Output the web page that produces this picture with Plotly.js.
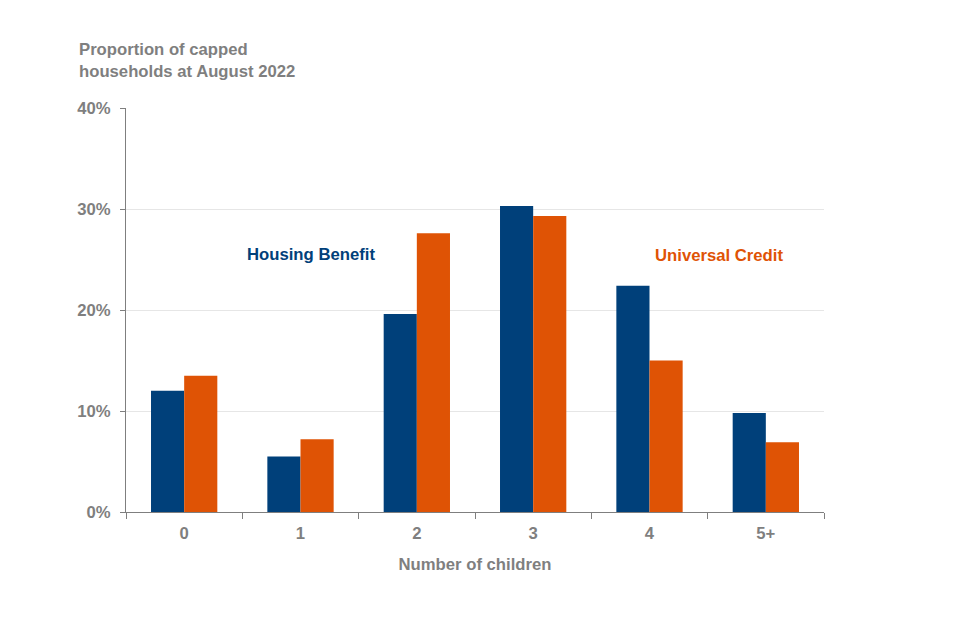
<!DOCTYPE html>
<html>
<head>
<meta charset="utf-8">
<script src="https://cdn.plot.ly/plotly-3.0.1.min.js"></script>
<style>html,body{margin:0;padding:0;background:#fff;}#chart{width:960px;height:640px;}</style>
</head>
<body>
<div id="chart"></div>
<script>
const categories = ['0', '1', '2', '3', '4', '5+'];
const housingBenefit = [12.0, 5.5, 19.6, 30.3, 22.4, 9.8];
const universalCredit = [13.5, 7.2, 27.6, 29.3, 15.0, 6.9];
const yTickValues = [0, 10, 20, 30, 40];
const yTickLabels = ['0%', '10%', '20%', '30%', '40%'];

const navy = '#00407a';
const orange = '#df5305';
const grey = '#7f7f7f';
const font = 'Liberation Sans, Arial, sans-serif';
const fs = 16.7;

const traces = [
  {type: 'bar', name: 'Housing Benefit', x: categories, y: housingBenefit, marker: {color: navy}},
  {type: 'bar', name: 'Universal Credit', x: categories, y: universalCredit, marker: {color: orange}}
];

const layout = {
  width: 960, height: 640,
  margin: {l: 126, r: 136, t: 108, b: 128},
  paper_bgcolor: '#fff', plot_bgcolor: '#fff',
  showlegend: false,
  barmode: 'group',
  bargap: 0.43,
  bargroupgap: 0,
  font: {family: font, color: grey, size: fs},
  xaxis: {
    type: 'category',
    tickson: 'boundaries',
    ticks: 'outside', ticklen: 6, tickcolor: grey, tickwidth: 1,
    ticklabelstandoff: 6,
    showline: true, linecolor: grey, linewidth: 1,
    showgrid: false, zeroline: false,
    tickfont: {family: font, size: fs, color: grey, weight: 'bold'},
    title: {text: '<b>Number of children</b>', font: {family: font, size: fs, color: grey}, standoff: 16}
  },
  yaxis: {
    range: [0, 40],
    tickvals: yTickValues, ticktext: yTickLabels,
    ticks: 'outside', ticklen: 5, tickcolor: grey, tickwidth: 1,
    ticklabelstandoff: 6,
    showline: true, linecolor: grey, linewidth: 1,
    showgrid: true, gridcolor: '#e6e6e6', gridwidth: 1,
    zeroline: false,
    tickfont: {family: font, size: fs, color: grey, weight: 'bold'}
  },
  annotations: [
    {xref: 'paper', yref: 'paper', x: (77 - 126) / 698, y: (512 - 83) / 404, xanchor: 'left', yanchor: 'bottom', align: 'left',
     showarrow: false, text: '<b>Proportion of capped<br>households at August 2022</b>',
     font: {family: font, size: fs, color: grey}},
    {xref: 'paper', yref: 'y', x: (311 - 126) / 698, y: 25.5, xanchor: 'center', yanchor: 'middle',
     showarrow: false, text: '<b>Housing Benefit</b>', font: {family: font, size: fs, color: navy}},
    {xref: 'paper', yref: 'y', x: (719 - 126) / 698, y: 25.4, xanchor: 'center', yanchor: 'middle',
     showarrow: false, text: '<b>Universal Credit</b>', font: {family: font, size: fs, color: orange}}
  ]
};

Plotly.newPlot('chart', traces, layout, {displayModeBar: false, staticPlot: true});
</script>
</body>
</html>
